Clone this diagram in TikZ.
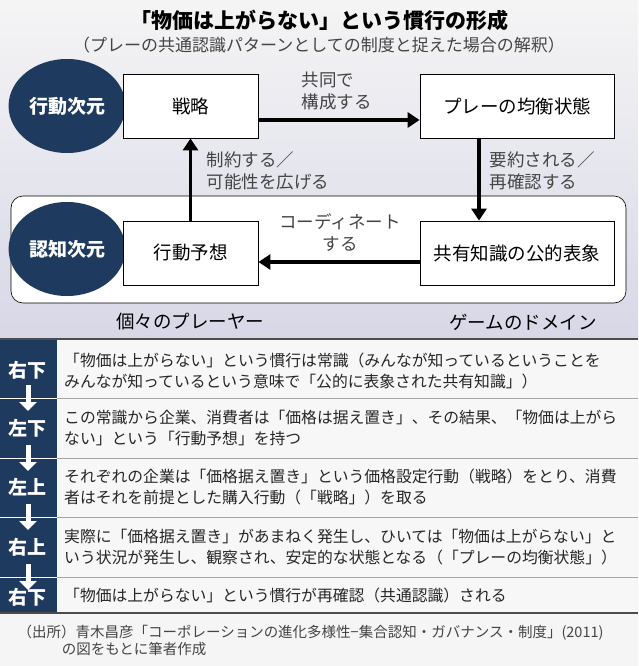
\documentclass[tikz,border=0pt]{standalone}
\usepackage{fontspec}
\setmainfont{Noto Sans CJK JP}
\usetikzlibrary{arrows.meta,positioning}
\definecolor{navy}{HTML}{1F3A5F}
\definecolor{labgray}{HTML}{444444}
\tikzset{
  box/.style={draw=black,fill=white,line width=0.8pt,minimum width=135pt,minimum height=64pt,font=\fontsize{18.5}{22}\selectfont},
  dimcircle/.style={ellipse,fill=navy,minimum width=94pt,minimum height=94pt,text=white,font=\bfseries\fontsize{19}{22}\selectfont},
  flow/.style={line width=3.5pt,-{Triangle[length=12pt,width=15pt]}},
  lab/.style={text=labgray,align=left,font=\fontsize{17.5}{22}\selectfont},
  rowtext/.style={anchor=west,align=left,text=black!85,font=\fontsize{15.8}{21}\selectfont,inner sep=0pt},
  rowlab/.style={text=white,font=\bfseries\fontsize{19}{22}\selectfont},
  sep/.style={draw=gray!70,line width=0.8pt}
}
\usetikzlibrary{shapes.geometric}
\begin{document}
\begin{tikzpicture}[x=1pt,y=-1pt]
  \useasboundingbox (0,0) rectangle (638,666);
  % backgrounds
  \shade[top color=blue!3!gray!8,bottom color=blue!25!gray!25] (0,0) rectangle (638,338);
  \fill[gray!8] (0,338) rectangle (638,666);
  \draw[fill=white,line width=0.6pt,rounded corners=12pt] (11,196) rectangle (626,303);
  % title
  \node[font=\bfseries\fontsize{21}{24}\selectfont] (title) at (319,20) {「物価は上がらない」という慣行の形成};
  \node[text=labgray,font=\fontsize{17}{20}\selectfont] (subtitle) at (319,45) {（プレーの共通認識パターンとしての制度と捉えた場合の解釈）};
  % dimensions
  \node[dimcircle] (act) at (67,106) {行動次元};
  \node[dimcircle] (cog) at (67,249) {認知次元};
  % boxes
  \node[box] (strat) at (190.5,106) {戦略};
  \node[box,minimum width=194pt] (equil) at (517,106) {プレーの均衡状態};
  \node[box] (expect) at (190.5,253) {行動予想};
  \node[box,minimum width=194pt] (shared) at (517,253) {共有知識の公的表象};
  % connectors
  \draw[flow] (strat.east |- 0,120) -- (equil.west |- 0,120);
  \draw[flow] (shared.west |- 0,262) -- (expect.east |- 0,262);
  \draw[flow] (equil.south -| 479,0) -- (shared.north -| 479,0);
  \draw[flow] (expect.north) -- (strat.south);
  % labels
  \node[lab,anchor=west] (l1) at (298,91) {共同で\\構成する};
  \node[lab,anchor=west] (l2) at (203,171) {制約する／\\可能性を広げる};
  \node[lab,anchor=west] (l3) at (486,171) {要約される／\\再確認する};
  \node[lab,align=center] (l4) at (340,233) {コーディネート\\する};
  \node[font=\fontsize{18.5}{22}\selectfont] (players) at (190,322) {個々のプレーヤー};
  \node[font=\fontsize{18.5}{22}\selectfont] (domain) at (523,322) {ゲームのドメイン};
  % table
  \fill[white!60!gray!15] (57,339) rectangle (638,613);
  \fill[navy] (0,339) rectangle (57,613);
  \foreach \y in {398,458,517,577} {
    \draw[sep] (57,\y) -- (638,\y);
    \draw[white,line width=0.8pt] (0,\y) -- (57,\y);
    \draw[white,line width=5pt,-{Triangle[length=9pt,width=17pt]}] (28,\y-13) -- (28,\y+13);
  }
  \draw[black!70,line width=1.2pt] (0,339) -- (638,339);
  \draw[black!70,line width=1.2pt] (0,613) -- (638,613);
  \node[rowlab] (r1) at (28,370) {右下};
  \node[rowlab] (r2) at (28,428) {左下};
  \node[rowlab] (r3) at (28,487) {左上};
  \node[rowlab] (r4) at (28,547) {右上};
  \node[rowlab] (r5) at (28,597) {右下};
  \node[rowtext] (t1) at (64,371) {「物価は上がらない」という慣行は常識（みんなが知っているということを\\みんなが知っているという意味で「公的に表象された共有知識」）};
  \node[rowtext] (t2) at (64,428) {この常識から企業、消費者は「価格は据え置き」、その結果、「物価は上がら\\ない」という「行動予想」を持つ};
  \node[rowtext] (t3) at (64,487) {それぞれの企業は「価格据え置き」という価格設定行動（戦略）をとり、消費\\者はそれを前提とした購入行動（「戦略」）を取る};
  \node[rowtext] (t4) at (64,547) {実際に「価格据え置き」があまねく発生し、ひいては「物価は上がらない」と\\いう状況が発生し、観察され、安定的な状態となる（「プレーの均衡状態」）};
  \node[rowtext] (t5) at (64,595) {「物価は上がらない」という慣行が再確認（共通認識）される};
  % source
  \node[anchor=west,align=left,text=labgray,font=\fontsize{14.5}{17}\selectfont] (src) at (14,640) {（出所）青木昌彦「コーポレーションの進化多様性−集合認知・ガバナンス・制度」(2011)\\\hspace*{3.05em}の図をもとに筆者作成};
\end{tikzpicture}
\end{document}
